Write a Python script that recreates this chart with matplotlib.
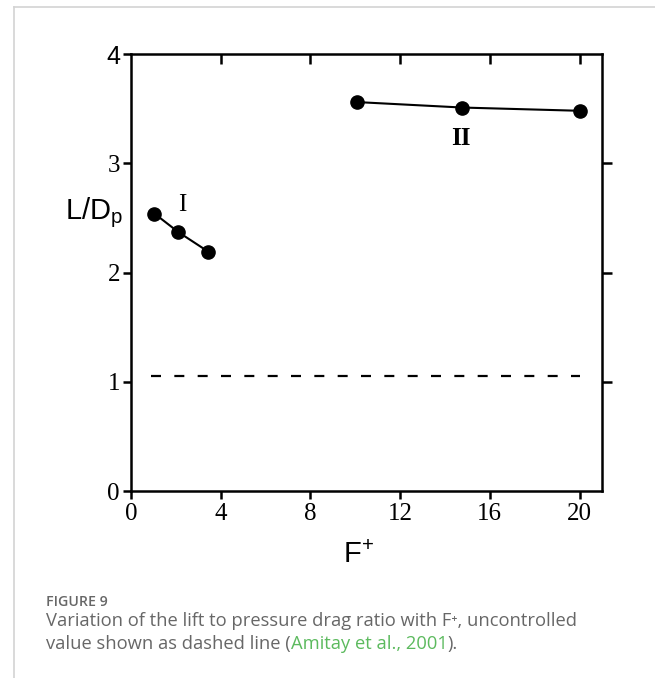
import matplotlib
matplotlib.use("Agg")
import matplotlib.pyplot as plt
from matplotlib.lines import Line2D
import matplotlib.transforms as mtransforms

# Lift to pressure-drag ratio vs reduced forcing frequency F+
f_low = [1.04, 2.11, 3.45]
ld_low = [2.54, 2.37, 2.19]
f_high = [10.07, 14.76, 20.04]
ld_high = [3.56, 3.51, 3.48]
uncontrolled_ld = 1.05
uncontrolled_span = [0.9, 20.0]
x_ticks = [0, 4, 8, 12, 16, 20]
y_ticks = [0, 1, 2, 3, 4]
regime_labels = ["I", "II"]

plt.rcParams["mathtext.fontset"] = "custom"
plt.rcParams["mathtext.rm"] = "Liberation Sans"
plt.rcParams["mathtext.it"] = "Liberation Sans"

fig = plt.figure(figsize=(6.55, 6.78), dpi=100)
ax = fig.add_axes([131 / 655, 1 - 491 / 678, 471 / 655, 437 / 678])

lw_spine = 1.8
for s in ax.spines.values():
    s.set_linewidth(lw_spine)

ax.plot(f_low, ld_low, "-o", color="black", lw=1.5, ms=9.5)
ax.plot(f_high, ld_high, "-o", color="black", lw=1.5, ms=9.5)
ax.plot(uncontrolled_span, [uncontrolled_ld, uncontrolled_ld], color="black",
        lw=1.6, dashes=(4.5, 6.0))

ax.text(2.3, 2.62, regime_labels[0], fontsize=18, family="Liberation Serif",
        ha="center", va="center")
ax.text(14.7, 3.23, regime_labels[1], fontsize=18, family="Liberation Serif",
        ha="center", va="center", fontweight="bold")

ax.set_xlim(0, 21)
ax.set_ylim(0, 4)
ax.set_xticks(x_ticks)
ax.set_yticks(y_ticks)
ax.set_xticklabels([str(v) for v in x_ticks], family="Liberation Serif", fontsize=18)
ax.set_yticklabels([str(v) for v in y_ticks], family="Liberation Serif", fontsize=18)
ax.get_yticklabels()[-1].set_family("Liberation Sans")

ax.tick_params(axis="x", bottom=True, top=True, direction="out", length=6,
               width=1.8, pad=3)
ax.tick_params(axis="y", left=True, right=True, direction="out", length=6,
               width=1.8, pad=2)
# top and right ticks point inward
for t in ax.xaxis.get_major_ticks():
    t.tick2line.set_marker(3)
    t.tick2line.set_markersize(7)
for t in ax.yaxis.get_major_ticks():
    t.tick2line.set_marker(1)
    t.tick2line.set_markersize(7)
ax.xaxis.get_major_ticks()[0].tick2line.set_visible(False)
ax.yaxis.get_major_ticks()[0].tick2line.set_visible(False)
ax.yaxis.get_major_ticks()[-1].tick2line.set_visible(False)

tr = mtransforms.blended_transform_factory(ax.transAxes, ax.transData)
ax.text(-0.140, 2.49, r"L/D$_\mathrm{p}$", transform=tr, fontsize=21,
        family="Liberation Sans", ha="left", va="baseline")
ax.text(9.46, -0.659, r"F$^{+}$", fontsize=21, family="Liberation Sans",
        ha="left", va="baseline", clip_on=False)

# page frame
frame_c = "#d3d3d3"
fig.add_artist(Line2D([14 / 655, 1.0], [1 - 7 / 678, 1 - 7 / 678],
                      color=frame_c, lw=1.2))
fig.add_artist(Line2D([14 / 655, 14 / 655], [0, 1 - 7 / 678],
                      color=frame_c, lw=1.2))

# caption
grey = "#676767"
green = "#5cba5e"
cap_fam = ["Open Sans", "DejaVu Sans"]
cap_fs = 13.2
fig.text(46 / 655, 1 - 602 / 678, "FIGURE 9", fontsize=10.2, color=grey,
         family=cap_fam, va="center", fontweight="semibold")
fig.text(46 / 655, 1 - 621 / 678,
         "Variation of the lift to pressure drag ratio with F\u207a, uncontrolled",
         fontsize=cap_fs, color=grey, family=cap_fam, va="center")
t1 = fig.text(46 / 655, 1 - 644 / 678, "value shown as dashed line (",
              fontsize=cap_fs, color=grey, family=cap_fam, va="center")
fig.canvas.draw()
r = fig.canvas.get_renderer()
bb = t1.get_window_extent(r)
x1 = bb.x1 / fig.bbox.width
t2 = fig.text(x1, 1 - 644 / 678, "Amitay et al., 2001", fontsize=cap_fs,
              color=green, family=cap_fam, va="center")
bb2 = t2.get_window_extent(r)
fig.text(bb2.x1 / fig.bbox.width, 1 - 644 / 678, ").", fontsize=cap_fs,
         color=grey, family=cap_fam, va="center")

fig.savefig("out.png", dpi=100)
